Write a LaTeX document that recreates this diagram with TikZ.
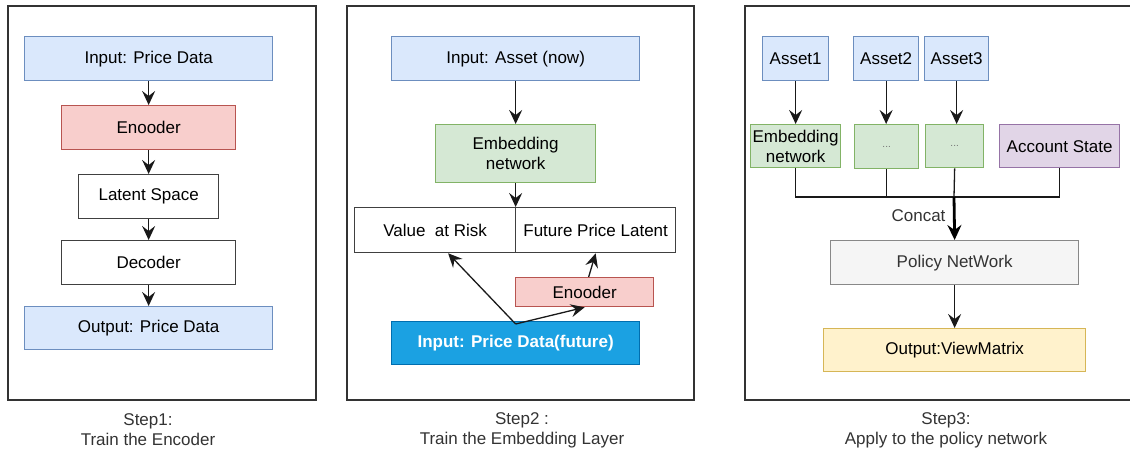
\documentclass[tikz,border=0pt]{standalone}
\usepackage{fontspec}
\setmainfont{Liberation Sans}
\usetikzlibrary{arrows.meta,positioning,calc}

\definecolor{blueFill}{HTML}{DAE8FC}
\definecolor{blueLine}{HTML}{6C8EBF}
\definecolor{redFill}{HTML}{F8CECC}
\definecolor{redLine}{HTML}{B85450}
\definecolor{greenFill}{HTML}{D5E8D4}
\definecolor{greenLine}{HTML}{82B366}
\definecolor{purpleFill}{HTML}{E1D5E7}
\definecolor{purpleLine}{HTML}{9673A6}
\definecolor{grayFill}{HTML}{F5F5F5}
\definecolor{grayLine}{HTML}{888888}
\definecolor{yellowFill}{HTML}{FFF2CC}
\definecolor{yellowLine}{HTML}{D6B656}
\definecolor{darkFill}{HTML}{1BA1E2}
\definecolor{darkLine}{HTML}{006EAF}
\definecolor{textGray}{HTML}{333333}

\begin{document}
\begin{tikzpicture}[x=1pt,y=-1pt,
  font=\fontsize{17}{20}\selectfont,
  box/.style={draw,rectangle,line width=1.3pt,inner sep=0pt,align=center,anchor=north west},
  blue box/.style={box,fill=blueFill,draw=blueLine},
  red box/.style={box,fill=redFill,draw=redLine},
  green box/.style={box,fill=greenFill,draw=greenLine},
  white box/.style={box,fill=white,draw=black!75},
  frame/.style={draw=black!80,line width=2pt},
  line/.style={line width=1.3pt,draw=black!90},
  link/.style={line,-{Stealth[length=14pt,width=13pt,inset=5pt]}},
  caption/.style={align=center,text=textGray}]
  \useasboundingbox (0,0) rectangle (1130,453);

  % Step 1
  \draw[frame] (8,6) rectangle (316,400);
  \node[blue box,minimum width=248,minimum height=44] (in1) at (24,36) {Input: Price Data};
  \node[red box,minimum width=174,minimum height=44] (enc1) at (61,105) {Enooder};
  \node[white box,minimum width=140,minimum height=44] (lat) at (78,174) {Latent Space};
  \node[white box,minimum width=174,minimum height=44] (dec) at (61,240) {Decoder};
  \node[blue box,minimum width=248,minimum height=43] (out1) at (24,306) {Output: Price Data};
  \draw[link] (in1) -- (enc1);
  \draw[link] (enc1) -- (lat);
  \draw[link] (lat) -- (dec);
  \draw[link] (dec) -- (out1);
  \node[caption] (cap1) at (148,430) {Step1:\\Train the Encoder};

  % Step 2
  \draw[frame] (347,6) rectangle (694,400);
  \node[blue box,minimum width=248,minimum height=44] (in2) at (391,36) {Input: Asset (now)};
  \node[green box,minimum width=160,minimum height=58] (emb) at (435,124) {Embedding\\network};
  \node[white box,minimum width=161,minimum height=45] (var) at (354,207) {Value\ \ at Risk};
  \node[white box,minimum width=160,minimum height=45] (fpl) at (515,207) {Future Price Latent};
  \node[red box,minimum width=138,minimum height=29] (enc2) at (515,277) {Enooder};
  \node[box,fill=darkFill,draw=darkLine,text=white,font=\fontsize{17}{20}\selectfont\bfseries,
    minimum width=248,minimum height=43] (pdf) at (391,321) {Input: Price Data(future)};
  \draw[link] (in2) -- (emb);
  \draw[link] (emb) -- (emb.south |- var.north);
  \draw[link] ([yshift=-3]pdf.north) -- ($(var.south west)!0.58!(var.south east)$);
  \draw[link] ([yshift=-3]pdf.north) -- (enc2.south);
  \draw[link] ([xshift=4]enc2.north) -- (fpl.south);
  \node[caption] (cap2) at (522,430) {Step2 :\\Train the Embedding Layer};

  % Step 3
  \draw[frame] (1132,6) -- (745,6) -- (745,400) -- (1132,400);
  \node[blue box,minimum width=66,minimum height=44] (a1) at (762,36) {Asset1};
  \node[blue box,minimum width=65,minimum height=44] (a2) at (853,36) {Asset2};
  \node[blue box,minimum width=64,minimum height=44] (a3) at (924,36) {Asset3};
  \node[green box,minimum width=90,minimum height=43] (e1) at (750,124) {Embedding\\network};
  \node[green box,minimum width=64,minimum height=44,text=black!55,
    font=\fontsize{10}{12}\selectfont] (e2) at (854,124) {...};
  \node[green box,minimum width=58,minimum height=43,text=black!55,
    font=\fontsize{10}{12}\selectfont] (e3) at (925,124) {...};
  \node[box,fill=purpleFill,draw=purpleLine,minimum width=120,minimum height=43] (acc) at (999,124) {Account State};
  \node[box,fill=grayFill,draw=grayLine,text=textGray,minimum width=248,minimum height=44] (pol) at (830,240) {Policy NetWork};
  \node[box,fill=yellowFill,draw=yellowLine,minimum width=262,minimum height=43] (view) at (823,328) {Output:ViewMatrix};
  \coordinate (cat) at (954,197);
  \draw[link] (a1) -- (e1);
  \draw[link] (a2.south) -- (a2.south |- e2.north);
  \draw[link] (a3.south) -- (a3.south |- e3.north);
  \draw[line] (e1.south) |- (cat) -| (acc.south);
  \draw[line] (e2.south) -- (e2.south |- cat);
  \draw[line] (e3.south) -- (cat);
  \draw[line width=2.8pt,draw=black,-{Stealth[length=15pt,width=14pt,inset=5pt]}] (cat) -- (pol.north);
  \node[anchor=east,text=textGray] (concat) at (949,216) {Concat};
  \draw[link] (pol) -- (view);
  \node[caption] (cap3) at (946,430) {Step3:\\Apply to the policy network};
\end{tikzpicture}
\end{document}
